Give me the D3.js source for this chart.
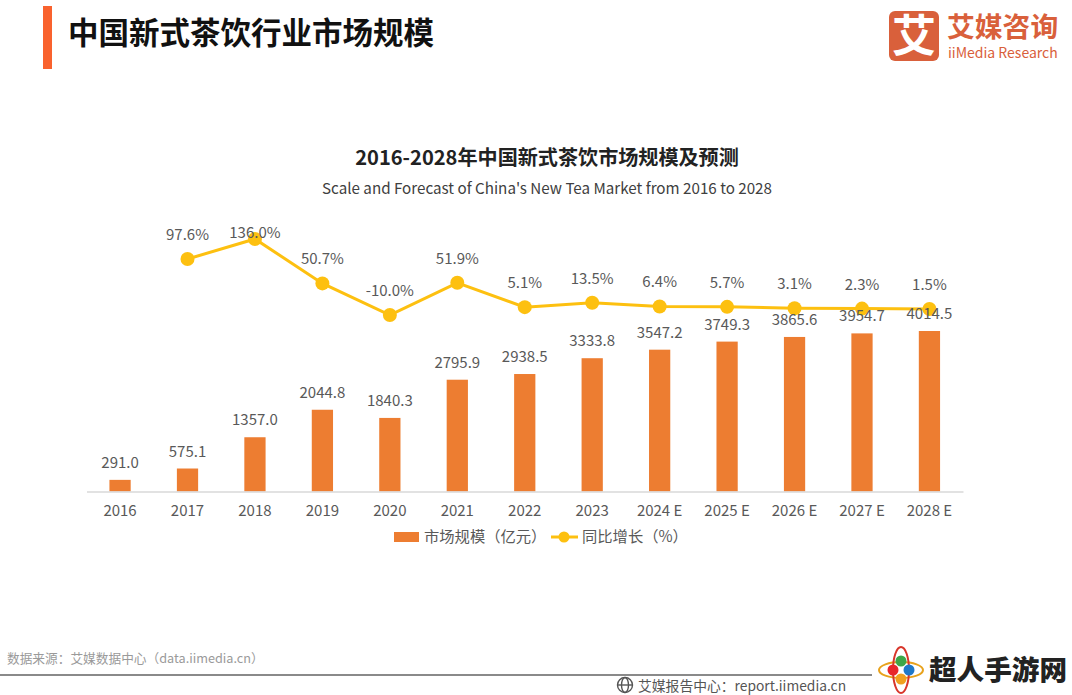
<!DOCTYPE html>
<html>
<head>
<meta charset="utf-8">
<script src="https://cdn.jsdelivr.net/npm/d3@7"></script>
<style>
  html, body { margin: 0; padding: 0; background: #fff; }
  text { font-family: "Noto Sans CJK SC", "Noto Sans", sans-serif; }
</style>
</head>
<body>
<div id="vis"></div>
<script>
// data
const years = ['2016', '2017', '2018', '2019', '2020', '2021', '2022', '2023', '2024 E', '2025 E', '2026 E', '2027 E', '2028 E'];
const marketSize = [291.0, 575.1, 1357.0, 2044.8, 1840.3, 2795.9, 2938.5, 3333.8, 3547.2, 3749.3, 3865.6, 3954.7, 4014.5];
const growthYears = years.slice(1);
const growth = [97.6, 136.0, 50.7, -10.0, 51.9, 5.1, 13.5, 6.4, 5.7, 3.1, 2.3, 1.5];

const orange = '#ed7d31';
const yellow = '#fdc010';
const textCol = '#595959';

const svg = d3.select('#vis').append('svg')
    .attr('width', 1072)
    .attr('height', 695)
    .style('display', 'block');

// scales
const x = d3.scaleBand().domain(years).range([86.5, 963]).paddingInner(0.685).paddingOuter(0.34);
const xMid = d => x(d) + x.bandwidth() / 2;
const yBar = d3.scaleLinear().domain([0, 4014.5]).range([491.5, 331]);
const yLine = d3.scaleLinear().domain([-10, 136]).range([315, 239]);

// header
svg.append('rect').attr('x', 43).attr('y', 6).attr('width', 9).attr('height', 63).attr('fill', '#f9622e');
svg.append('text').attr('x', 68).attr('y', 44)
    .attr('font-size', 30.5).attr('font-weight', 700).attr('fill', '#111')
    .text('中国新式茶饮行业市场规模');

// iiMedia logo
const logo = svg.append('g');
logo.append('rect').attr('x', 889).attr('y', 11).attr('width', 50).attr('height', 50).attr('rx', 6).attr('fill', '#d9603b');
logo.append('text').attr('x', 914).attr('y', 52).attr('text-anchor', 'middle')
    .attr('font-size', 44).attr('font-weight', 700).attr('fill', '#fff').text('艾');
logo.append('text').attr('x', 947).attr('y', 37)
    .attr('font-size', 27.8).attr('font-weight', 700).attr('fill', '#d9603b').text('艾媒咨询');
logo.append('text').attr('x', 948).attr('y', 58)
    .attr('font-size', 14).attr('fill', '#d9603b').text('iiMedia Research');

// chart titles
svg.append('text').attr('x', 547).attr('y', 165).attr('text-anchor', 'middle')
    .attr('font-size', 20.1).attr('font-weight', 700).attr('fill', '#222')
    .text('2016-2028年中国新式茶饮市场规模及预测');
svg.append('text').attr('x', 547).attr('y', 194).attr('text-anchor', 'middle')
    .attr('font-size', 15.2).attr('fill', '#404040')
    .text("Scale and Forecast of China's New Tea Market from 2016 to 2028");

// bars
svg.selectAll('.bar').data(years).join('rect')
    .attr('class', 'bar')
    .attr('x', d => x(d))
    .attr('y', (d, i) => yBar(marketSize[i]))
    .attr('width', x.bandwidth())
    .attr('height', (d, i) => yBar(0) - yBar(marketSize[i]))
    .attr('fill', orange);

// x axis
const xAxis = d3.axisBottom(x).tickSize(0).tickPadding(14);
const axisG = svg.append('g').attr('transform', `translate(0,${yBar(0)})`).call(xAxis);
axisG.select('.domain').attr('stroke', '#d9d9d9').attr('stroke-width', 1.5);
axisG.selectAll('text')
    .style('font-family', '"Noto Sans CJK SC", "Noto Sans", sans-serif')
    .attr('font-size', 15).attr('fill', textCol);
axisG.attr('font-size', 15);

// growth line
const line = d3.line().x(d => xMid(d)).y((d, i) => yLine(growth[i]));
svg.append('path').attr('d', line(growthYears))
    .attr('fill', 'none').attr('stroke', yellow).attr('stroke-width', 3);
svg.selectAll('.dot').data(growthYears).join('circle')
    .attr('class', 'dot')
    .attr('cx', xMid)
    .attr('cy', (d, i) => yLine(growth[i]))
    .attr('r', 7).attr('fill', yellow);

// bar labels go over the line
svg.selectAll('.bar-label').data(years).join('text')
    .attr('class', 'bar-label')
    .attr('x', xMid)
    .attr('y', (d, i) => yBar(marketSize[i]) - 12)
    .attr('text-anchor', 'middle')
    .attr('font-size', 15).attr('fill', textCol)
    .text((d, i) => marketSize[i].toFixed(1));

svg.selectAll('.line-label').data(growthYears).join('text')
    .attr('class', 'line-label')
    .attr('x', xMid)
    .attr('y', (d, i) => yLine(growth[i]) - (growth[i] === 136 ? 1 : 19))
    .attr('text-anchor', 'middle')
    .attr('font-size', 15).attr('fill', textCol)
    .text((d, i) => growth[i].toFixed(1) + '%');

// legend
const legend = svg.append('g');
legend.append('rect').attr('x', 394).attr('y', 532).attr('width', 25).attr('height', 10).attr('fill', orange);
legend.append('text').attr('x', 424).attr('y', 542).attr('font-size', 15.3).attr('fill', textCol).text('市场规模（亿元）');
legend.append('line').attr('x1', 551).attr('x2', 578).attr('y1', 537).attr('y2', 537).attr('stroke', yellow).attr('stroke-width', 3);
legend.append('circle').attr('cx', 564).attr('cy', 537).attr('r', 5.5).attr('fill', yellow);
legend.append('text').attr('x', 582).attr('y', 542).attr('font-size', 15.3).attr('fill', textCol).text('同比增长（%）');

// footer
svg.append('text').attr('x', 7).attr('y', 663).attr('font-size', 12.7).attr('fill', '#9a9a9a')
    .text('数据来源：艾媒数据中心（data.iimedia.cn）');
svg.append('line').attr('x1', 0).attr('x2', 872).attr('y1', 675).attr('y2', 675)
    .attr('stroke', '#8a8a8a').attr('stroke-width', 2);

const globe = svg.append('g').attr('transform', 'translate(625,685)').attr('fill', 'none').attr('stroke', '#555').attr('stroke-width', 1.4);
globe.append('circle').attr('r', 7.5);
globe.append('ellipse').attr('rx', 3.5).attr('ry', 7.5);
globe.append('line').attr('x1', -7.5).attr('x2', 7.5);
svg.append('text').attr('x', 638).attr('y', 691).attr('font-size', 13.8).attr('fill', '#555')
    .text('艾媒报告中心：report.iimedia.cn');

// bottom right watermark
const mark = svg.append('g').attr('transform', 'translate(901,670)');
mark.append('ellipse').attr('rx', 22).attr('ry', 8).attr('fill', 'none').attr('stroke', '#e8a21c').attr('stroke-width', 2);
mark.append('ellipse').attr('rx', 8).attr('ry', 23).attr('fill', 'none').attr('stroke', '#d8352a').attr('stroke-width', 2);
const markDots = [[0, -9, '#3da648'], [-8, 0, '#e8262a'], [8, 0, '#1f78c8'], [0, 9, '#f0a020']];
markDots.forEach(d => mark.append('circle').attr('cx', d[0]).attr('cy', d[1]).attr('r', 5.5).attr('fill', d[2]));
svg.append('text').attr('x', 929).attr('y', 680)
    .attr('font-size', 27.6).attr('font-weight', 900).attr('fill', '#222').text('超人手游网');
</script>
</body>
</html>
